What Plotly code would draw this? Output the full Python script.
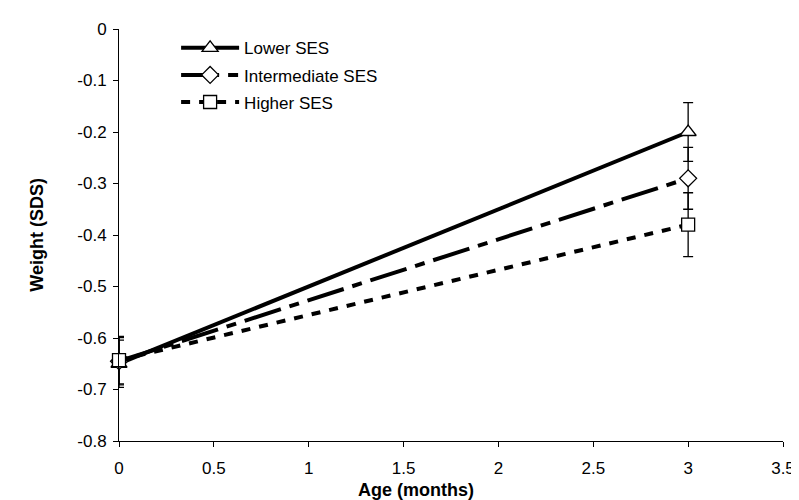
import plotly.graph_objects as go

ages = [0, 3]
series_names = ["Lower SES", "Intermediate SES", "Higher SES"]
lower_ses = [-0.65, -0.20]
intermediate_ses = [-0.645, -0.29]
higher_ses = [-0.643, -0.38]
lower_err = [0.046, 0.057]
intermediate_err = [0.046, 0.06]
higher_err = [0.046, 0.062]
x_ticks = [0, 0.5, 1, 1.5, 2, 2.5, 3, 3.5]
x_tick_labels = ["0", "0.5", "1", "1.5", "2", "2.5", "3", "3.5"]
y_ticks = [0, -0.1, -0.2, -0.3, -0.4, -0.5, -0.6, -0.7, -0.8]
y_tick_labels = ["0", "-0.1", "-0.2", "-0.3", "-0.4", "-0.5", "-0.6", "-0.7", "-0.8"]
x_title = "Age (months)"
y_title = "Weight (SDS)"

styles = [
    dict(dash="solid", symbol="triangle-up", size=14),
    dict(dash="38px,9px,10px,9px", symbol="diamond", size=13),
    dict(dash="9px,9px", symbol="square", size=13),
]
values = [lower_ses, intermediate_ses, higher_ses]
errors = [lower_err, intermediate_err, higher_err]

fig = go.Figure()
for name, vals, errs, st in zip(series_names, values, errors, styles):
    fig.add_trace(go.Scatter(
        x=ages, y=vals, name=name, mode="lines+markers", legendgroup=name,
        line=dict(color="black", width=4, dash=st["dash"]),
        marker=dict(symbol=st["symbol"], size=st["size"],
                    color="white", line=dict(color="black", width=1.3)),
        error_y=dict(type="data", array=errs, visible=True, color="black",
                     thickness=1.3, width=5),
        cliponaxis=False,
    ))

font_family = "Liberation Sans, Arial, sans-serif"
fig.update_layout(
    width=799, height=500,
    margin=dict(l=111, r=17, t=15, b=67),
    paper_bgcolor="white", plot_bgcolor="white",
    font=dict(family=font_family, size=17, color="black"),
    showlegend=True,
    legend=dict(x=0.086, y=0.997, xanchor="left", yanchor="top",
                bgcolor="rgba(0,0,0,0)", itemwidth=58,
                font=dict(size=17, family=font_family), tracegroupgap=2),
    xaxis=dict(range=[0, 3.5], tickvals=x_ticks, ticktext=x_tick_labels,
               showgrid=False, zeroline=False, showline=True, linecolor="black",
               linewidth=1, ticks="outside", ticklen=5, tickcolor="black",
               ticklabelstandoff=7, tickfont=dict(size=17)),
    yaxis=dict(range=[-0.8, 0], tickvals=y_ticks, ticktext=y_tick_labels,
               showgrid=False, zeroline=False, showline=True, linecolor="black",
               linewidth=1, ticks="outside", ticklen=5, tickcolor="black",
               ticklabelstandoff=3, tickfont=dict(size=17)),
    annotations=[
        dict(text="<b>" + x_title + "</b>", xref="paper", yref="paper",
             x=0.447, y=-0.12, xanchor="center", yanchor="middle",
             showarrow=False, font=dict(size=18)),
        dict(text="<b>" + y_title + "</b>", xref="paper", yref="paper",
             x=-0.124, y=0.5, xanchor="center", yanchor="middle",
             textangle=-90, showarrow=False, font=dict(size=18)),
    ],
)

fig.write_html("out.html")
